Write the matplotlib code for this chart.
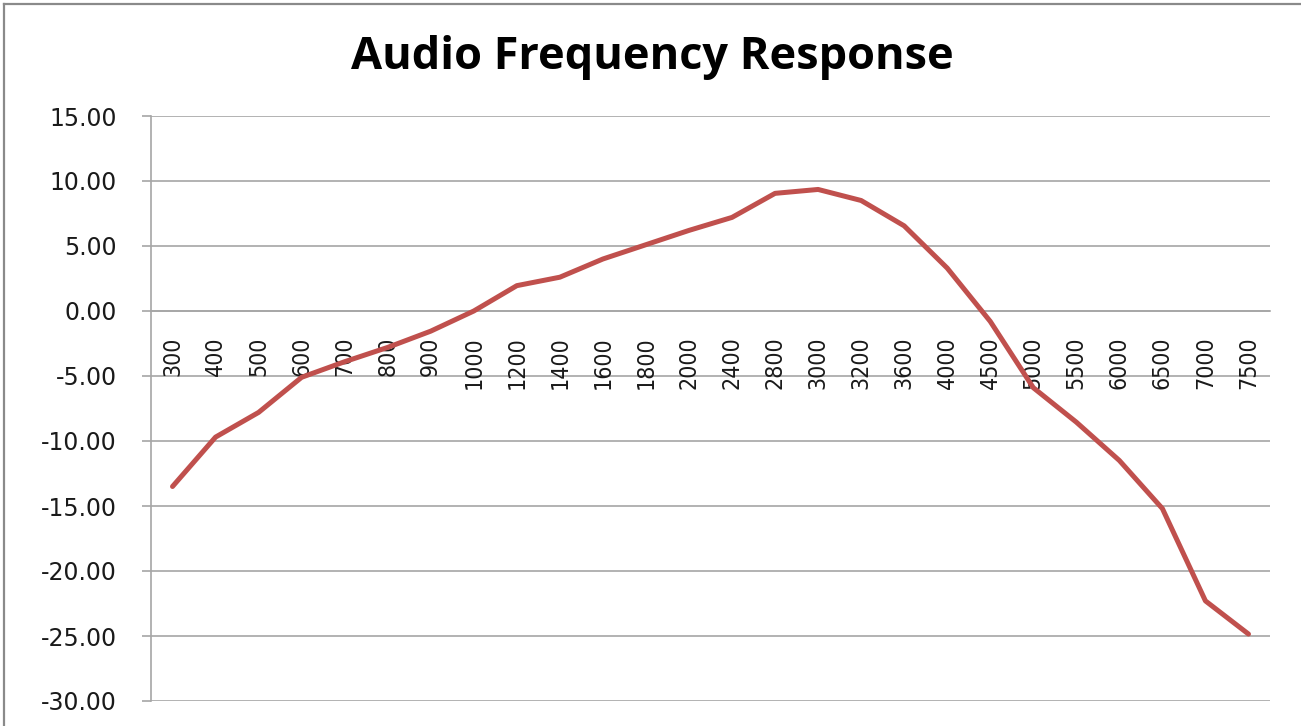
import matplotlib
matplotlib.use("Agg")
import matplotlib.pyplot as plt
from matplotlib.lines import Line2D

title = "Audio Frequency Response"
freq_labels = ["300", "400", "500", "600", "700", "800", "900", "1000", "1200", "1400",
               "1600", "1800", "2000", "2400", "2800", "3000", "3200", "3600", "4000",
               "4500", "5000", "5500", "6000", "6500", "7000", "7500"]
response_db = [-13.5, -9.7, -7.8, -5.1, -3.9, -2.8, -1.55, 0.0, 1.95, 2.6,
               4.0, 5.1, 6.2, 7.2, 9.05, 9.35, 8.5, 6.55, 3.3,
               -0.8, -5.9, -8.55, -11.5, -15.2, -22.3, -24.85]
y_ticks = [15, 10, 5, 0, -5, -10, -15, -20, -25, -30]

W, H = 1301, 726
fig = plt.figure(figsize=(W / 100, H / 100), dpi=100)
fig.patch.set_facecolor("white")

# outer chart border (top and left edges visible)
fig.add_artist(Line2D([4 / W, 4 / W], [0, 1 - 4 / H], transform=fig.transFigure,
                      color="#8a8a8a", lw=1.6))
fig.add_artist(Line2D([4 / W, 1], [1 - 4 / H, 1 - 4 / H], transform=fig.transFigure,
                      color="#8a8a8a", lw=1.6))

ax = fig.add_axes([151 / W, (H - 701) / H, 1119 / W, 585 / H])
n = len(freq_labels)
xs = [i + 0.5 for i in range(n)]
ax.set_xlim(0, n)
ax.set_ylim(-30, 15)

ax.set_yticks(y_ticks)
ax.set_yticklabels([f"{v:.2f}" for v in y_ticks])
ax.grid(axis="y", color="#a6a6a6", lw=1.2)
ax.set_axisbelow(True)

for s in ["top", "right"]:
    ax.spines[s].set_visible(False)
ax.spines["left"].set_color("#a6a6a6")
ax.spines["left"].set_linewidth(1.2)
ax.spines["bottom"].set_position(("data", 0))
ax.spines["bottom"].set_color("#a6a6a6")
ax.spines["bottom"].set_linewidth(1.2)

ax.tick_params(axis="y", length=6.5, width=1.2, color="#a6a6a6", pad=18,
               labelsize=17, labelcolor="#1a1a1a")
ax.tick_params(axis="x", length=0)
ax.set_xticks(xs)
ax.set_xticklabels([])

for x, lab in zip(xs, freq_labels):
    ax.annotate(lab, xy=(x, 0), xycoords="data", xytext=(0, -18.4),
                textcoords="offset points", rotation=90, ha="center", va="top",
                fontsize=16.6, family="DejaVu Sans", fontstretch="condensed",
                color="#1a1a1a")

ax.plot(xs, response_db, color="#c0504d", lw=3.6, solid_joinstyle="round",
        solid_capstyle="round", zorder=3)

fig.text(652 / W, 1 - 57 / H, title, ha="center", va="center",
         fontsize=32.5, fontweight="bold", family="Open Sans", color="black")

fig.savefig("out.png", dpi=100, facecolor="white")
